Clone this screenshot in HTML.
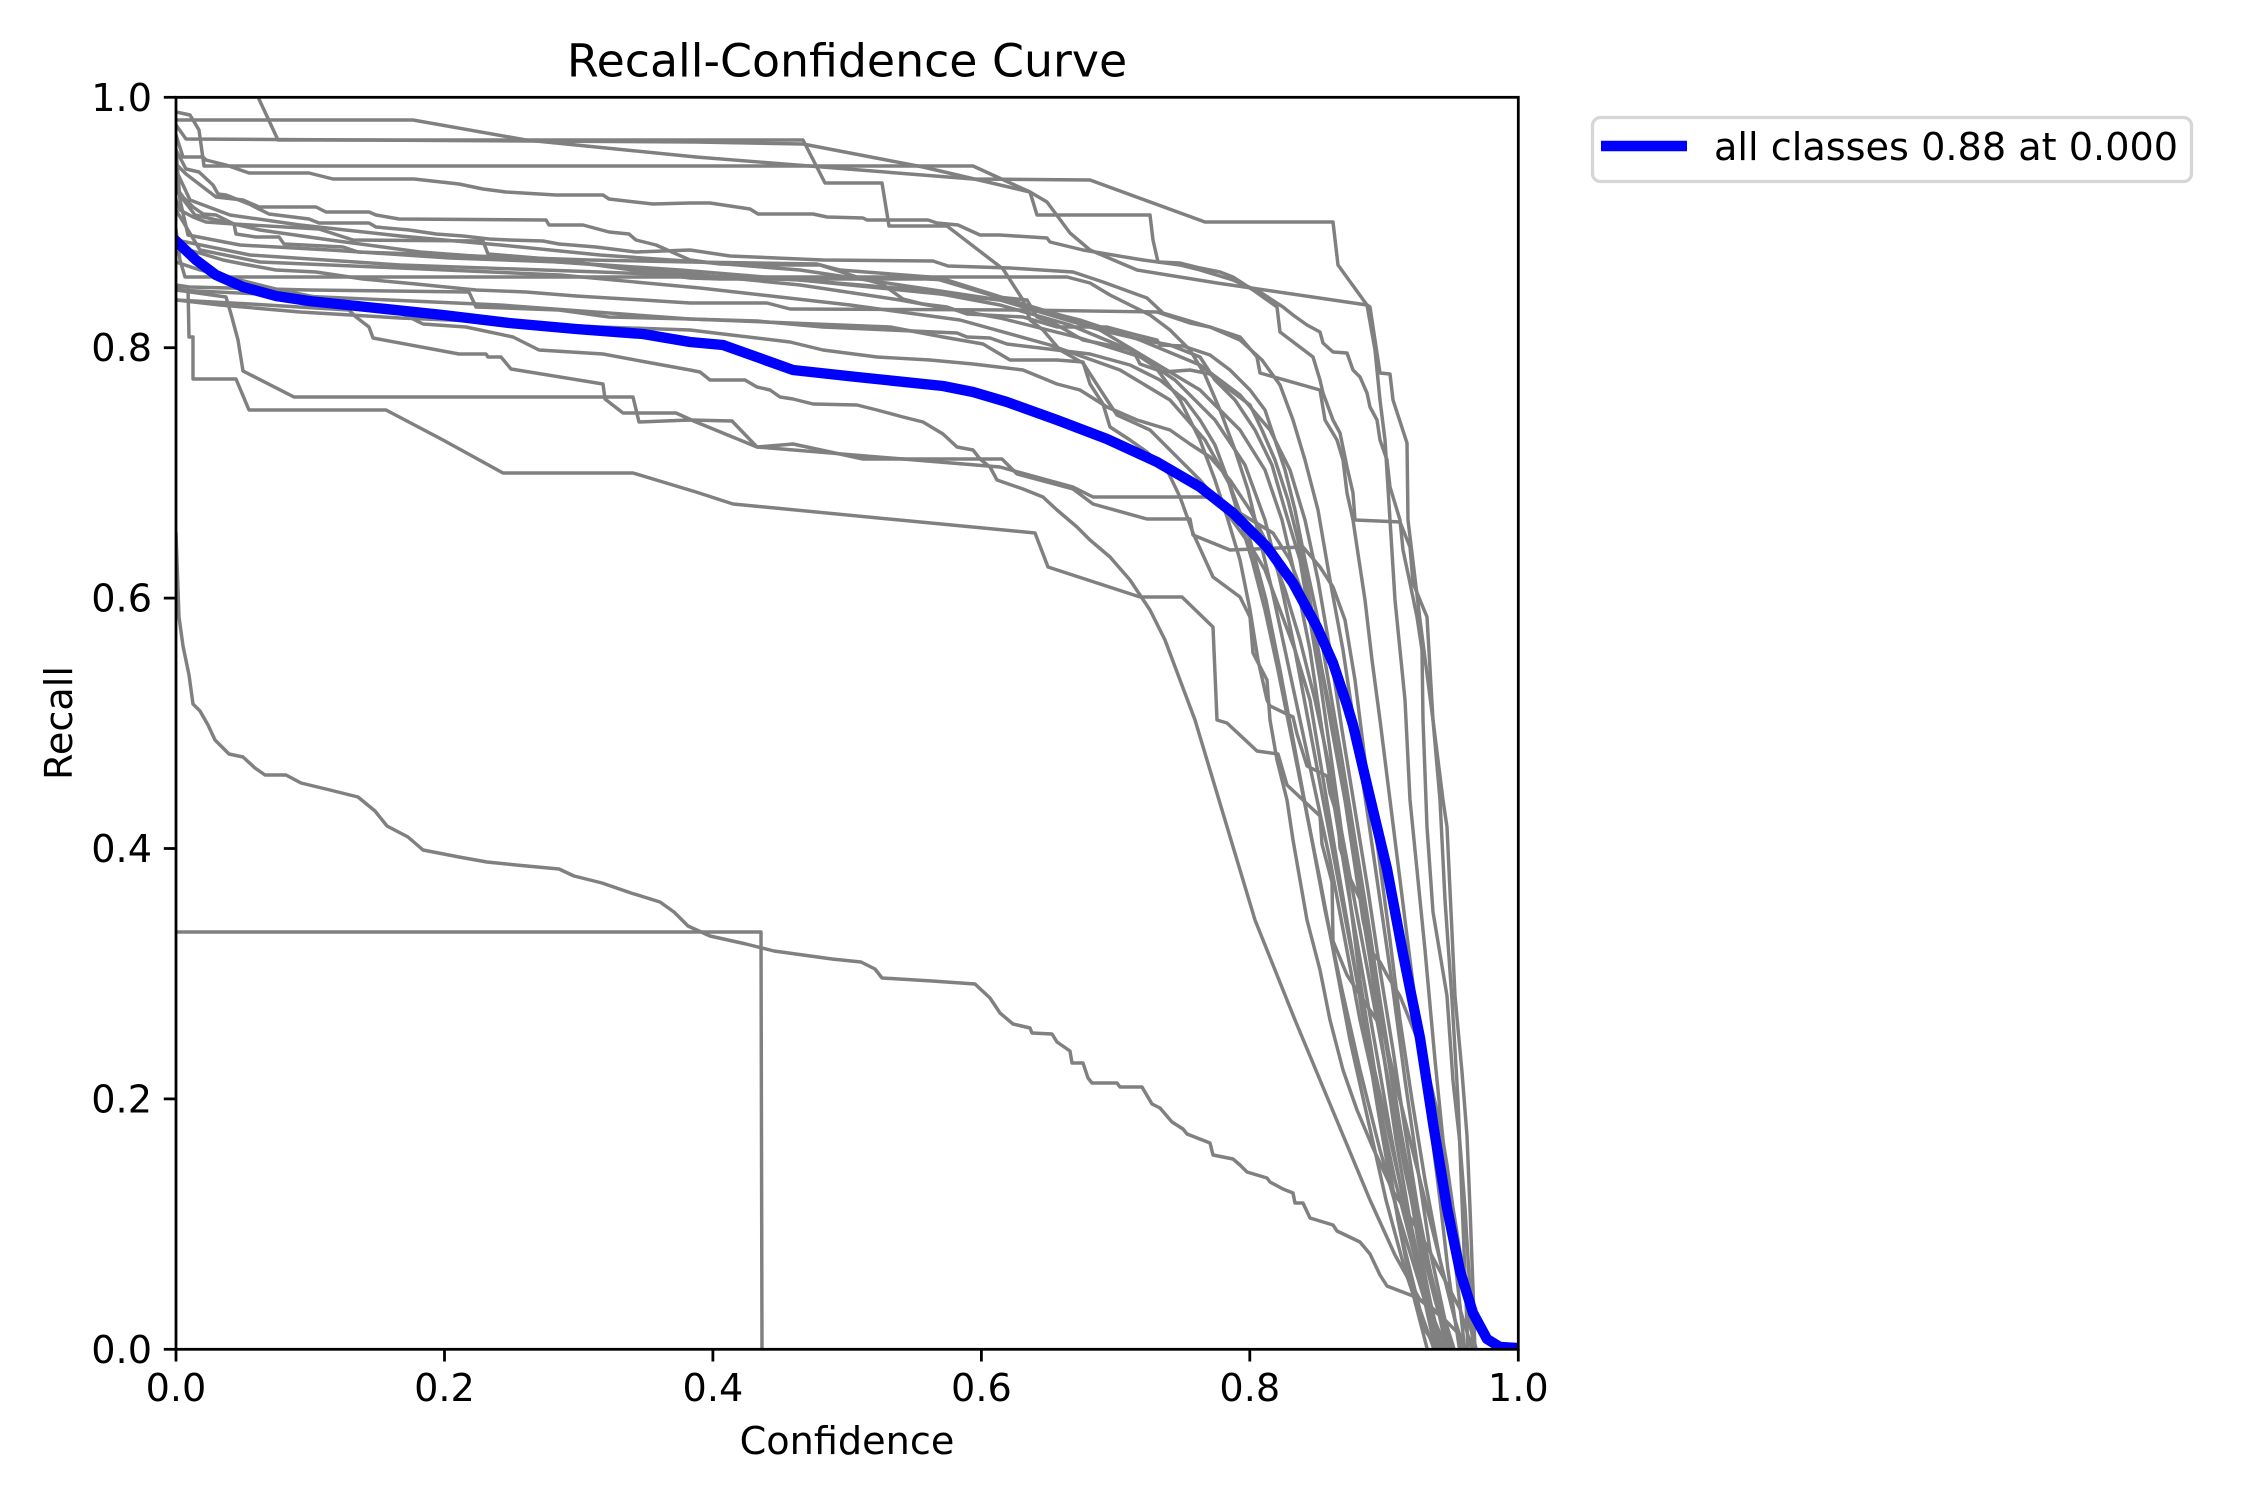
<!DOCTYPE html>
<html>
<head>
<meta charset="utf-8">
<style>
  html,body{margin:0;padding:0;background:#ffffff;}
  body{width:2250px;height:1500px;overflow:hidden;}
  svg{display:block;}
  text{font-family:"DejaVu Sans","Liberation Sans",sans-serif;fill:#000;}
</style>
</head>
<body>
<svg width="2250" height="1500" viewBox="0 0 2250 1500" xmlns="http://www.w3.org/2000/svg">
  <defs>
    <clipPath id="ax">
      <rect x="176" y="97.3" width="1342.3" height="1252"/>
    </clipPath>
  </defs>
  <rect x="0" y="0" width="2250" height="1500" fill="#ffffff"/>

  <g clip-path="url(#ax)" fill="none" stroke="#808080" stroke-width="3.47" stroke-linejoin="round" stroke-linecap="square">
    <!-- C1 -->
    <polyline points="176,120 413,120 526,140 696,157 973,179 1090,180 1205,222 1333,222 1338,265 1367,305 1370,307 1380,373 1390,374 1393,400 1407,443 1408,520 1420,620 1433,720 1443,800 1447,827 1455,996 1462,1072 1467,1136 1470,1208 1473,1288 1475,1352"/>
    <!-- C2 -->
    <polyline points="176,97 258,97 278,140 803,140 825,183 882,183 889,226 947,226 1003,269 1023,300 1030,320 1043,330 1060,350 1083,363 1107,400 1117,415 1150,430 1170,450 1200,480 1225,510 1250,545 1265,570 1280,610 1295,650 1310,700 1320,760 1330,820 1340,880 1352,950 1365,1030 1378,1110 1390,1180 1405,1250 1420,1310 1435,1352"/>
    <!-- C3 -->
    <polyline points="176,125 186,139 696,142 803,144 923,167 1030,192 1047,202 1070,233 1090,250 1137,270 1217,283 1367,305 1375,350 1380,400 1385,440 1390,520 1395,600 1405,700 1410,800 1418,880 1425,950 1435,1060 1445,1160 1455,1260 1465,1352"/>
    <!-- C4 -->
    <polyline points="176,112 190,115 199,130 204,166 690,166 973,166 1030,192 1037,215 1150,215 1153,240 1158,262 1180,263 1200,268 1220,272 1233,277 1253,290 1277,307 1280,332 1313,357 1320,380 1323,393 1333,420 1340,433 1347,467 1353,493 1355,520 1400,522 1410,547 1413,583 1427,617 1433,720 1440,800 1445,900 1452,1000 1458,1100 1462,1200 1466,1300 1468,1352"/>
    <!-- C5 -->
    <polyline points="176,135 183,157 203,157 206,160 226,165 249,173 309,173 333,179 414,179 459,184 483,189 506,192 556,195 603,195 609,199 653,204 690,203 710,203 750,209 758,214 813,214 827,217 863,218 867,220 928,220 937,223 958,225 980,235 1000,235 1047,238 1050,242 1083,250 1143,260 1180,265 1200,270 1233,280 1260,292 1283,307 1293,315 1307,325 1320,332 1323,343 1333,352 1347,353 1353,370 1360,377 1367,393 1370,407 1377,420 1380,440 1387,460 1390,487 1400,520 1403,550 1410,583 1417,617 1422,650 1423,720 1427,827 1433,912 1447,996 1453,1081 1460,1144 1465,1208 1470,1292 1473,1352"/>
    <!-- C6 -->
    <polyline points="176,150 186,169 199,172 213,185 218,194 226,195 249,204 269,214 309,219 319,223 369,223 376,227 409,230 436,234 463,236 489,239 509,240 543,241 559,244 596,247 636,252 690,250 730,256 823,260 933,261 948,266 1010,268 1073,272 1103,282 1147,298 1163,313 1213,328 1240,337 1257,357 1260,373 1320,390 1325,420 1337,440 1343,460 1347,493 1353,520 1357,547 1365,600 1372,660 1380,720 1390,800 1400,880 1410,960 1420,1040 1430,1120 1440,1200 1448,1270 1455,1320 1460,1352"/>
    <!-- C7 -->
    <polyline points="176,164 186,174 216,197 243,200 259,207 316,207 326,212 369,212 376,215 399,219 546,220 549,225 583,225 609,232 629,234 636,240 656,245 690,260 720,264 790,265 820,265 863,279 882,284 903,299 923,304 947,307 967,314 1023,317 1057,327 1107,327 1133,334 1157,340 1160,345 1183,346 1210,355 1230,370 1250,390 1265,410 1275,440 1285,470 1295,510 1305,560 1318,620 1330,690 1342,760 1355,840 1368,920 1380,1000 1393,1080 1405,1160 1418,1240 1430,1300 1442,1352"/>
    <!-- C8 -->
    <polyline points="176,187 183,197 193,207 203,214 216,215 234,224 236,234 256,237 279,237 284,244 343,247 358,252 589,260 690,262 817,264 840,270 930,277 997,297 1027,300 1037,317 1057,325 1083,340 1133,350 1140,364 1163,372 1190,370 1210,374 1230,390 1250,405 1262,430 1275,460 1288,500 1298,540 1310,600 1320,660 1332,730 1345,800 1357,880 1370,960 1383,1050 1396,1140 1410,1220 1425,1290 1440,1352"/>
    <!-- C9 -->
    <polyline points="176,200 180,210 193,217 206,222 234,224 319,229 353,240 483,241 488,254 549,259 589,264 690,278 720,279 927,279 947,280 1023,304 1060,315 1100,330 1143,340 1170,345 1200,357 1215,380 1235,400 1255,430 1272,465 1285,510 1300,560 1310,620 1320,680 1330,750 1340,820 1350,900 1360,980 1373,1060 1385,1140 1398,1220 1412,1290 1428,1352"/>
    <!-- C10 -->
    <polyline points="176,244 189,250 203,254 223,260 243,264 276,270 316,272 363,279 416,284 476,290 526,292 576,296 643,300 690,303 767,303 790,309 1023,310 1157,312 1190,323 1210,327 1240,340 1262,360 1280,385 1293,420 1305,460 1318,510 1330,580 1343,650 1355,730 1367,810 1380,900 1393,990 1405,1080 1418,1170 1430,1250 1445,1320 1455,1352"/>
    <!-- C11 -->
    <polyline points="176,230 180,260 185,277 1067,277 1090,283 1110,295 1130,305 1150,315 1170,330 1190,350 1205,375 1220,410 1235,450 1248,490 1260,540 1272,590 1285,650 1300,720 1315,790 1330,860 1345,940 1360,1020 1378,1100 1395,1180 1413,1250 1430,1310 1448,1352"/>
    <!-- C12 -->
    <polyline points="176,285 189,287 309,290 469,292 476,307 559,310 609,317 690,319 757,321 823,327 890,330 957,333 967,337 990,338 1007,344 1090,354 1130,365 1160,380 1185,400 1200,420 1215,445 1228,480 1240,520 1252,560 1265,610 1278,670 1292,740 1306,810 1320,880 1335,960 1350,1040 1368,1120 1386,1200 1405,1270 1425,1330 1440,1352"/>
    <!-- C13 P -->
    <polyline points="176,290 226,297 231,314 238,340 243,371 294,397 633,397 639,422 690,420 732,421 757,447 793,444 863,459 1002,459 1017,474 1073,489 1093,504 1147,519 1190,519 1193,535 1230,550 1303,547 1320,567 1333,587 1345,620 1355,680 1365,760 1378,850 1390,940 1400,1020 1412,1100 1425,1180 1440,1260 1455,1320 1462,1352"/>
    <!-- C14 Q -->
    <polyline points="176,287 188,287 189,337 193,337 193,379 236,379 249,410 386,410 443,440 503,473 633,473 696,492 733,504 1035,533 1048,567 1140,597 1182,597 1213,627 1217,720 1227,723 1257,751 1278,754 1287,785 1320,816 1322,844 1332,882 1333,941 1347,975 1383,1030 1400,1100 1420,1180 1440,1260 1455,1320 1465,1352"/>
    <!-- C15 N -->
    <polyline points="176,300 250,304 349,310 356,317 369,327 373,338 459,354 486,354 488,357 501,357 511,369 603,384 605,399 623,413 676,413 696,422 757,447 1000,467 1073,487 1093,497 1213,497 1273,533 1290,560 1305,600 1318,650 1330,710 1342,780 1355,860 1368,940 1382,1020 1395,1100 1410,1180 1425,1250 1440,1310 1452,1352"/>
    <!-- C16 V -->
    <polyline points="176,262 200,270 240,280 280,290 330,300 380,308 403,314 423,324 466,327 513,337 539,350 603,354 646,362 690,370 700,372 710,380 745,380 757,387 770,390 780,397 793,399 813,404 857,405 877,410 903,417 923,422 943,434 957,447 973,450 980,459 990,467 997,480 1023,489 1043,497 1057,510 1077,527 1090,540 1110,557 1130,580 1150,610 1165,640 1180,680 1195,720 1210,770 1225,820 1240,870 1255,920 1275,970 1295,1020 1320,1080 1345,1140 1370,1200 1395,1255 1420,1300 1443,1318 1443,1352"/>
    <!-- C17 W -->
    <polyline points="176,300 220,305 300,312 400,318 500,322 600,327 690,330 723,334 790,342 823,350 877,357 930,360 973,364 1023,370 1057,384 1080,390 1107,407 1137,420 1170,430 1190,444 1210,457 1230,480 1250,510 1268,545 1285,590 1300,640 1315,700 1330,770 1345,850 1360,930 1375,1010 1390,1090 1405,1170 1420,1240 1435,1300 1450,1352"/>
    <!-- C18 X -->
    <polyline points="176,290 300,296 500,305 690,319 890,327 943,337 983,344 1010,360 1057,360 1083,362 1090,384 1103,404 1110,427 1130,440 1147,452 1167,470 1180,497 1193,533 1213,577 1240,597 1250,617 1253,653 1267,680 1270,720 1277,760 1287,800 1293,840 1300,880 1307,920 1320,970 1330,1020 1343,1070 1357,1110 1373,1148 1393,1191 1420,1233 1440,1271 1460,1309 1473,1352"/>
    <!-- C19 -->
    <polyline points="176,240 250,255 400,265 600,272 800,280 1000,300 1100,330 1150,360 1180,400 1200,440 1215,480 1228,520 1240,560 1250,610 1258,660 1267,700 1270,706 1293,717 1297,734 1307,766 1327,776 1330,793 1338,818 1340,848 1350,878 1360,899 1363,920 1370,950 1380,962 1387,975 1400,996 1417,1038 1430,1081 1440,1123 1447,1165 1453,1208 1463,1271 1470,1326 1477,1352"/>
    <!-- C20 -->
    <polyline points="176,170 190,200 230,215 300,225 400,236 500,245 600,255 700,262 800,270 900,285 1000,300 1080,320 1140,340 1200,365 1240,395 1270,430 1290,470 1305,520 1318,580 1330,650 1342,730 1355,810 1368,890 1380,970 1393,1050 1405,1130 1418,1210 1432,1280 1447,1352"/>
    <!-- C21 -->
    <polyline points="176,190 195,215 260,230 330,240 420,252 500,258 600,265 700,275 800,285 900,300 1000,318 1080,338 1150,360 1200,390 1240,430 1265,470 1282,520 1296,580 1310,650 1322,730 1335,810 1348,890 1362,970 1376,1050 1390,1130 1405,1210 1420,1280 1436,1352"/>
    <!-- C22 -->
    <polyline points="176,210 200,250 260,262 400,268 560,275 700,288 850,305 960,320 1050,345 1120,370 1170,400 1205,440 1230,485 1250,540 1266,600 1280,670 1295,750 1310,830 1325,910 1342,990 1360,1070 1380,1150 1400,1220 1420,1285 1440,1352"/>
    <!-- C23 -->
    <polyline points="176,150 180,200 188,235 240,245 330,250 450,258 560,262 680,270 800,280 920,290 1000,305 1070,325 1130,350 1175,380 1215,420 1245,465 1265,520 1280,580 1295,650 1310,730 1325,810 1340,890 1355,970 1370,1050 1388,1130 1406,1210 1424,1280 1442,1352"/>
    <!-- S low curve -->
    <polyline points="176,534 179,617 183,646 189,675 193,704 200,711 208,725 215,740 222,747 229,754 243,757 255,768 265,775 286,775 301,783 330,790 358,797 375,811 387,826 408,837 423,850 459,857 487,862 516,865 559,869 574,876 602,883 631,893 660,902 674,912 688,926 710,936 746,944 774,951 803,955 832,959 861,962 875,969 882,978 932,981 975,984 990,998 1000,1013 1013,1024 1030,1028 1032,1033 1052,1034 1057,1042 1070,1051 1072,1063 1083,1063 1088,1078 1092,1083 1117,1083 1120,1087 1142,1087 1152,1104 1160,1108 1172,1122 1183,1129 1187,1134 1210,1143 1213,1155 1233,1159 1240,1165 1247,1172 1267,1178 1270,1182 1283,1189 1293,1193 1295,1203 1303,1203 1310,1218 1333,1225 1337,1231 1360,1242 1370,1254 1380,1275 1387,1286 1413,1296 1427,1303 1443,1318 1460,1335 1467,1352"/>
    <!-- R rectangle curve -->
    <polyline points="176,932 761,932 762,1352"/>
  </g>

  <!-- mean curve -->
  <g clip-path="url(#ax)">
    <polyline fill="none" stroke="#0000ff" stroke-width="10.4" stroke-linejoin="round" stroke-linecap="square"
      points="176,241 196,260 216,275 243,287 276,296 309,301 376,308 443,315 509,323 576,329 643,334 690,342 723,345 793,370 857,377 943,386 973,392 1007,402 1057,420 1107,439 1157,462 1200,487 1233,513 1267,547 1293,583 1317,627 1333,663 1347,705 1353,725 1367,785 1387,869 1403,954 1420,1038 1433,1123 1447,1208 1460,1271 1473,1313 1487,1339 1500,1347 1518,1348"/>
  </g>

  <!-- spines -->
  <rect x="176" y="97.3" width="1342.3" height="1252" fill="none" stroke="#000" stroke-width="2.78"/>

  <!-- x ticks -->
  <g stroke="#000" stroke-width="2.78">
    <line x1="176" y1="1349.3" x2="176" y2="1361.5"/>
    <line x1="444.5" y1="1349.3" x2="444.5" y2="1361.5"/>
    <line x1="712.9" y1="1349.3" x2="712.9" y2="1361.5"/>
    <line x1="981.4" y1="1349.3" x2="981.4" y2="1361.5"/>
    <line x1="1249.8" y1="1349.3" x2="1249.8" y2="1361.5"/>
    <line x1="1518.3" y1="1349.3" x2="1518.3" y2="1361.5"/>
    <!-- y ticks -->
    <line x1="163.8" y1="1349.3" x2="176" y2="1349.3"/>
    <line x1="163.8" y1="1098.9" x2="176" y2="1098.9"/>
    <line x1="163.8" y1="848.5" x2="176" y2="848.5"/>
    <line x1="163.8" y1="598.1" x2="176" y2="598.1"/>
    <line x1="163.8" y1="347.7" x2="176" y2="347.7"/>
    <line x1="163.8" y1="97.3" x2="176" y2="97.3"/>
  </g>

  <!-- x tick labels -->
  <g font-size="38.2" text-anchor="middle">
    <text x="176" y="1401">0.0</text>
    <text x="444.5" y="1401">0.2</text>
    <text x="712.9" y="1401">0.4</text>
    <text x="981.4" y="1401">0.6</text>
    <text x="1249.8" y="1401">0.8</text>
    <text x="1518.3" y="1401">1.0</text>
  </g>
  <!-- y tick labels -->
  <g font-size="38.2" text-anchor="end">
    <text x="152" y="1362.8">0.0</text>
    <text x="152" y="1112.4">0.2</text>
    <text x="152" y="862">0.4</text>
    <text x="152" y="611.6">0.6</text>
    <text x="152" y="361.2">0.8</text>
    <text x="152" y="110.8">1.0</text>
  </g>

  <!-- axis labels -->
  <text x="847" y="1454" font-size="38.2" text-anchor="middle">Confidence</text>
  <text transform="translate(72,723) rotate(-90)" font-size="38.2" text-anchor="middle">Recall</text>

  <!-- title -->
  <text x="847" y="76.5" font-size="45.8" text-anchor="middle">Recall-Confidence Curve</text>

  <!-- legend -->
  <rect x="1592.5" y="117.5" width="599" height="64" rx="8" ry="8" fill="#ffffff" fill-opacity="0.8" stroke="#d6d6d6" stroke-width="3.3"/>
  <line x1="1601" y1="146" x2="1687" y2="146" stroke="#0000ff" stroke-width="10.4"/>
  <text x="1714" y="160" font-size="38.2">all classes 0.88 at 0.000</text>
</svg>
</body>
</html>
